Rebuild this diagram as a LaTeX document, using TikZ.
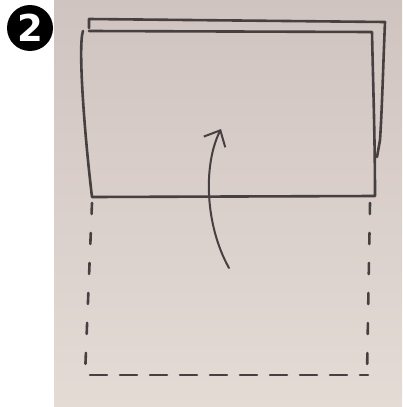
\documentclass[tikz,border=0pt]{standalone}
\usepackage{fontspec}
\setmainfont{DejaVu Sans}
\usetikzlibrary{arrows.meta}
\definecolor{papertop}{RGB}{208,196,192}
\definecolor{paperbot}{RGB}{228,219,213}
\definecolor{pencil}{RGB}{70,64,64}
\tikzset{
  sheet/.style={draw=pencil, line width=2.6pt, line join=round, line cap=round},
  dashline/.style={draw=pencil, line width=2.6pt, dash pattern=on 11pt off 19pt, line cap=round},
  dashbottom/.style={draw=pencil, line width=2.6pt, dash pattern=on 17pt off 13pt, line cap=round},
  foldarrow/.style={draw=pencil, line width=2pt, line cap=round, -{Straight Barb[length=13pt,width=24pt,line width=2pt]}},
  badge/.style={circle, fill=black, text=white, inner sep=0pt, minimum size=46pt, font=\bfseries\fontsize{37}{37}\selectfont}
}
\begin{document}
\begin{tikzpicture}[x=1pt,y=-1pt]
\useasboundingbox (0,0) rectangle (402,407);
\fill[white] (0,0) rectangle (402,407);
% paper
\shade[top color=papertop, bottom color=paperbot] (54,0) rectangle (402,407);
% badge
\node[badge] (num) at (30,28) {2};
% back sheet
\draw[sheet] (89,28) -- (89,19) -- (385,22) .. controls (383,70) and (382,110) .. (380,140) -- (377,157);
% front sheet
\draw[sheet] (83,31) .. controls (78,45) and (84,130) .. (92,197) -- (375,196) .. controls (375,140) and (373,80) .. (372,32) -- (89,31);
% dashed remainder
\draw[dashline] (92,203) -- (85,375);
\draw[dashline] (370,203) -- (367,375);
\draw[dashbottom] (90,375) -- (368,375);
% arrow
\coordinate (arrstart) at (229,268);
\coordinate (arrend) at (221,129);
\draw[foldarrow] (arrstart) .. controls (205,225) and (203,165) .. (arrend);
\end{tikzpicture}
\end{document}
